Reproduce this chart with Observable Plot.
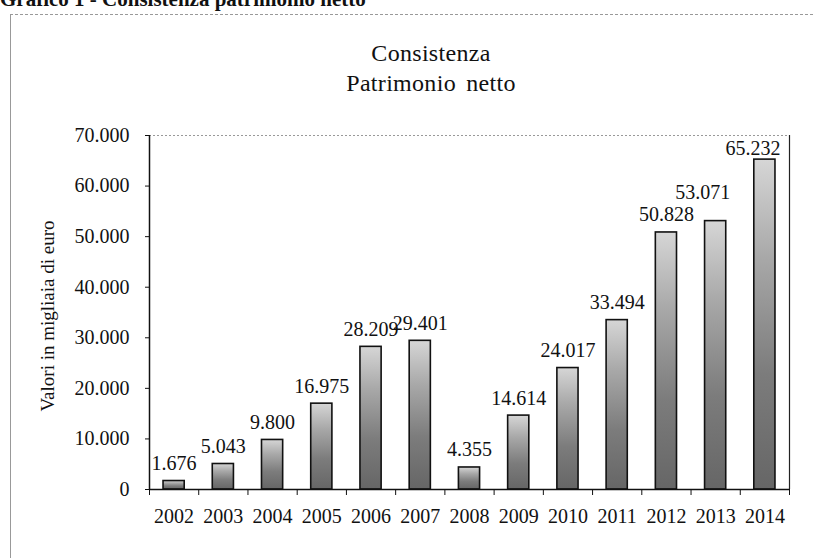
<!DOCTYPE html>
<html>
<head>
<meta charset="utf-8">
<script src="https://cdn.jsdelivr.net/npm/d3@7"></script>
<script src="https://cdn.jsdelivr.net/npm/@observablehq/plot@0.6"></script>
<style>
  html, body { margin: 0; padding: 0; background: #fff; }
  #page { position: relative; width: 813px; height: 558px; overflow: hidden; font-family: "Liberation Serif", serif; color: #111; }
  #chart { position: absolute; left: 0; top: 0; }
  .abs { position: absolute; white-space: nowrap; }
  #topTitle { left: 0; top: -11px; font-size: 21px; line-height: 21px; font-weight: bold; }
  #frameTop { left: 10px; top: 14px; width: 803px; height: 0; border-top: 1px dashed #999; }
  #frameLeft { left: 10px; top: 14px; width: 0; height: 544px; border-left: 1px solid #999; }
  .title { left: 431px; transform: translate(-50%, -50%); font-size: 24px; line-height: 24px; letter-spacing: 0.3px; }
  #yLabel { left: 47px; top: 316px; transform: translate(-50%, -50%) rotate(-90deg); font-size: 19px; line-height: 19px; }
</style>
</head>
<body>
<div id="page">
  <div id="chart"></div>
  <div class="abs" id="topTitle">Grafico 1 - Consistenza patrimonio netto</div>
  <div class="abs" id="frameTop"></div>
  <div class="abs" id="frameLeft"></div>
  <div class="abs title" style="top:53px">Consistenza</div>
  <div class="abs title" style="top:83px; word-spacing: 4px">Patrimonio netto</div>
  <div class="abs" id="yLabel">Valori in migliaia di euro</div>
</div>
<script>
const years = [2002, 2003, 2004, 2005, 2006, 2007, 2008, 2009, 2010, 2011, 2012, 2013, 2014];
const values = [1676, 5043, 9800, 16975, 28209, 29401, 4355, 14614, 24017, 33494, 50828, 53071, 65232];
const yTicks = [0, 10000, 20000, 30000, 40000, 50000, 60000, 70000];

const data = years.map((year, i) => ({year, value: values[i]}));
const boundaries = [years[0] - 0.5, ...years.map(y => y + 0.5)];
const fmt = d => d3.format(",")(d).replace(/,/g, ".");
const half = 0.215;
const raisedYear = years[years.length - 2];
const topYear = years[years.length - 1];
const labelOpts = { x: "year", y: "value", text: d => fmt(d.value), lineAnchor: "bottom", fontSize: 20, fill: "#111" };

const plot = Plot.plot({
  width: 813,
  height: 558,
  marginLeft: 149,
  marginRight: 24,
  marginTop: 135,
  marginBottom: 69,
  style: { fontFamily: "Liberation Serif, serif", background: "transparent", color: "#111" },
  x: { type: "linear", domain: [years[0] - 0.5, years[years.length - 1] + 0.5] },
  y: { domain: [0, 70000] },
  marks: [
    Plot.ruleY([70000], { stroke: "#999", strokeDasharray: "2,2" }),
    Plot.ruleX([boundaries[boundaries.length - 1]], { stroke: "#222", strokeWidth: 1.2 }),
    Plot.rectY(data, {
      x1: d => d.year - half, x2: d => d.year + half, y1: 0, y2: "value",
      fill: "url(#barGrad)", stroke: "#111", strokeWidth: 1.6
    }),
    Plot.text(data.filter(d => d.year !== raisedYear && d.year !== topYear), { ...labelOpts, dy: -11 }),
    Plot.text(data.filter(d => d.year === raisedYear), { ...labelOpts, dy: -22, dx: -13 }),
    Plot.text(data.filter(d => d.year === topYear), { ...labelOpts, dy: -5, dx: -12 }),
    Plot.axisY({ ticks: yTicks, tickFormat: fmt, tickSize: 4, tickPadding: 16, fontSize: 20, label: null }),
    Plot.axisX({ ticks: years, tickFormat: d => String(d), tickSize: 0, tickPadding: 19, fontSize: 20, label: null }),
    Plot.axisX({ ticks: boundaries, tickFormat: () => "", tickSize: 6, label: null }),
    Plot.ruleX([boundaries[0]], { stroke: "#111", strokeWidth: 1.5 }),
    Plot.ruleY([0], { stroke: "#111", strokeWidth: 1.5 })
  ]
});

const svgNS = "http://www.w3.org/2000/svg";
const defs = document.createElementNS(svgNS, "defs");
defs.innerHTML = `
  <linearGradient id="barGrad" x1="0" y1="0" x2="0" y2="1">
    <stop offset="0%" stop-color="#d6d6d6"/>
    <stop offset="30%" stop-color="#a8a8a8"/>
    <stop offset="65%" stop-color="#7c7c7c"/>
    <stop offset="100%" stop-color="#666666"/>
  </linearGradient>`;
plot.insertBefore(defs, plot.firstChild);
document.getElementById("chart").appendChild(plot);
</script>
</body>
</html>
